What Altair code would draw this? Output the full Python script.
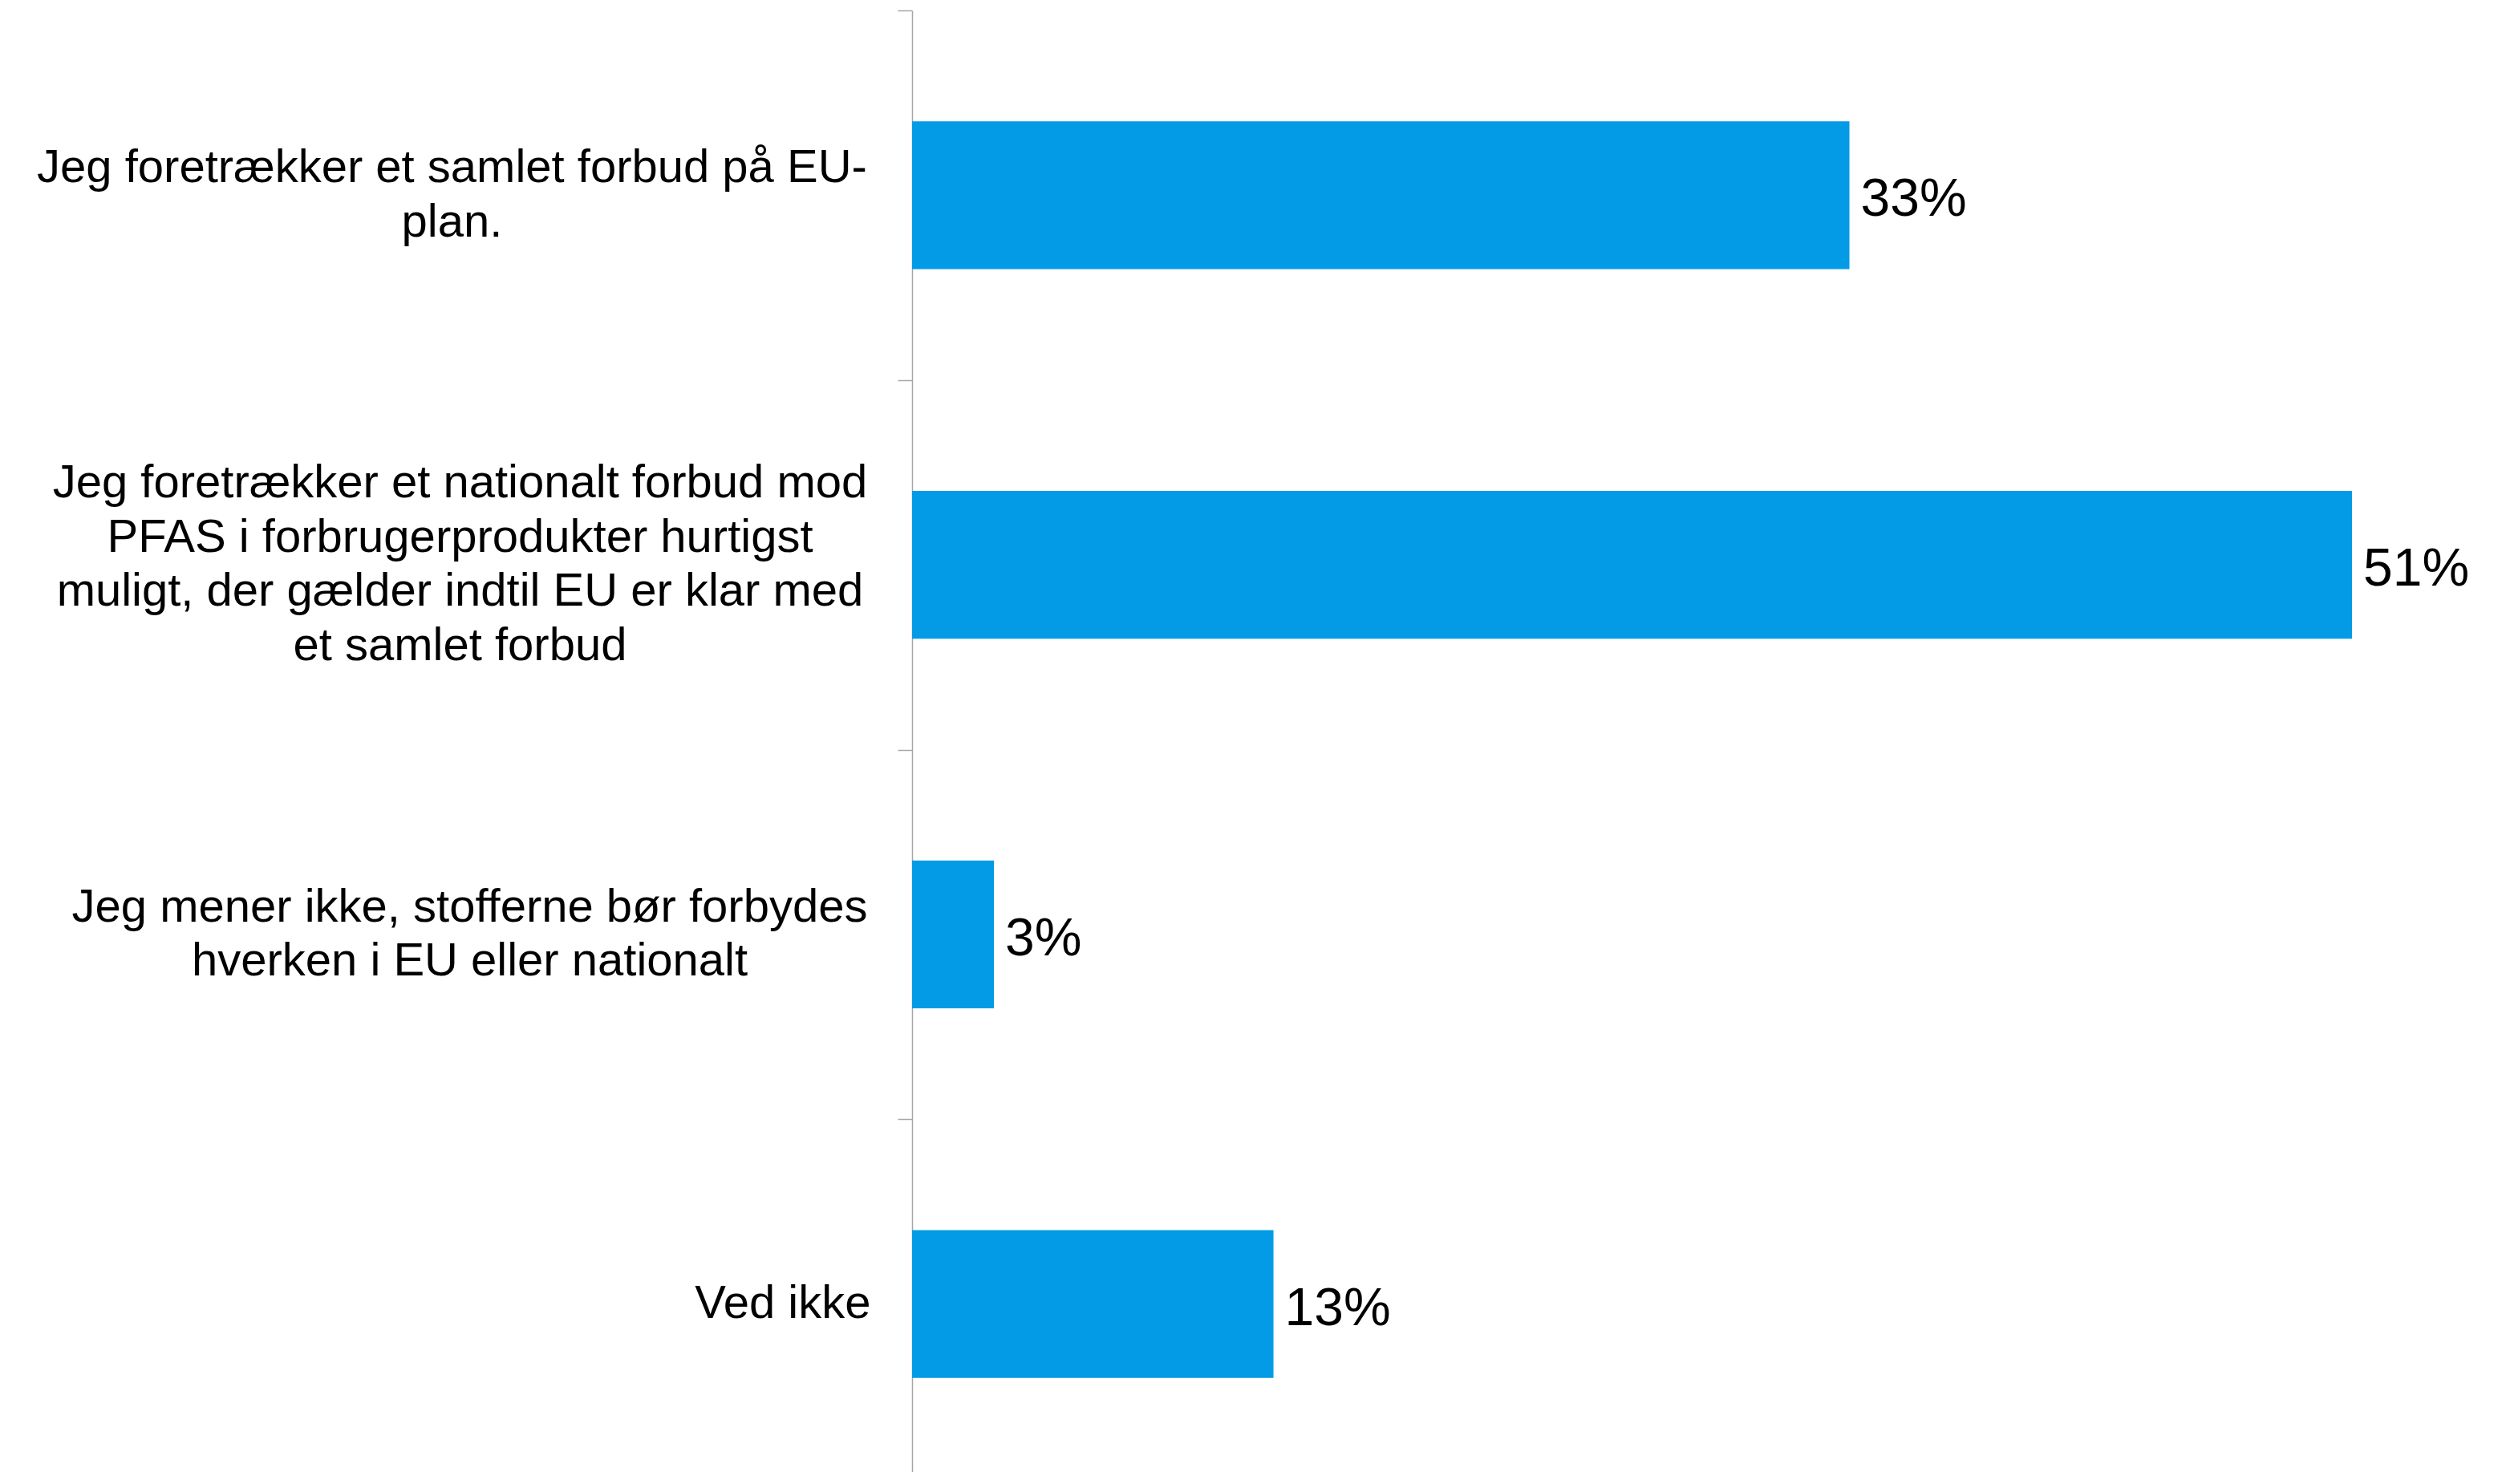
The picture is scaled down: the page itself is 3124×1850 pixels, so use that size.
import altair as alt
import pandas as pd

categories = [
    "Jeg foretrækker et samlet forbud på EU-\nplan.",
    "Jeg foretrækker et nationalt forbud mod\nPFAS i forbrugerprodukter hurtigst\nmuligt, der gælder indtil EU er klar med\net samlet forbud",
    "Jeg mener ikke, stofferne bør forbydes\nhverken i EU eller nationalt",
    "Ved ikke",
]
shares = [0.332, 0.510, 0.029, 0.128]

df = pd.DataFrame({"kategori": categories, "andel": shares})

FONT = "Liberation Sans"
BAR_COLOR = "#039BE5"
AXIS_GREY = "#A6A6A6"
LINE_H = 67.5

is_ved = "isString(datum.value) && datum.value == 'Ved ikke'"
is_eu = "isString(datum.value) && indexof(datum.value, 'EU-') >= 0"
is_pfas = "isString(datum.value) && indexof(datum.value, 'PFAS') >= 0"

label_padding = {
    "condition": [
        {"test": is_ved, "value": 34},
        {"test": is_eu, "value": 556},
        {"test": is_pfas, "value": 546},
    ],
    "value": 534,
}
label_offset = {
    "condition": [
        {"test": is_ved, "value": 0},
        {"test": is_pfas, "value": -1.5 * LINE_H},
    ],
    "value": -0.5 * LINE_H,
}
label_align = {"condition": {"test": is_ved, "value": "right"}, "value": "center"}

y_enc = alt.Y(
    "kategori:N",
    sort=categories,
    title=None,
    scale=alt.Scale(range=[0, 1843], paddingInner=0, paddingOuter=0),
    axis=alt.Axis(
        labelExpr="isString(datum.value) ? split(datum.value, '\\n') : ''",
        labelFont=FONT,
        labelFontSize=58,
        labelLineHeight=LINE_H,
        labelColor="#000000",
        labelAlign=label_align,
        labelPadding=label_padding,
        labelOffset=label_offset,
        labelBaseline="middle",
        labelLimit=2000,
        labelOverlap=False,
        labelBound=False,
        tickBand="extent",
        tickSize=18,
        tickColor=AXIS_GREY,
        tickWidth=1.5,
        domainColor=AXIS_GREY,
        domainWidth=1.5,
        grid=False,
    ),
)

x_enc = alt.X(
    "andel:Q",
    scale=alt.Scale(domain=[0, 0.56], nice=False, zero=True),
    axis=None,
)

bars = alt.Chart(df).mark_bar(
    color=BAR_COLOR,
    height=alt.RelativeBandSize(0.4),
).encode(x=x_enc, y=y_enc)

labels = alt.Chart(df).mark_text(
    align="left",
    baseline="middle",
    dx=14,
    dy=6,
    font=FONT,
    fontSize=66,
    color="#000000",
).encode(
    x=x_enc,
    y=alt.Y("kategori:N", sort=categories),
    text=alt.Text("andel:Q", format=".0%"),
)

chart = (
    alt.layer(bars, labels)
    .properties(
        width=1971,
        height=1822,
        autosize=alt.AutoSizeParams(type="none"),
        padding={"left": 1129, "top": 5, "right": 5, "bottom": 0},
        background="white",
    )
    .configure_view(stroke=None)
)

chart.save("out.html", embed_options={"renderer": "svg", "actions": False})
